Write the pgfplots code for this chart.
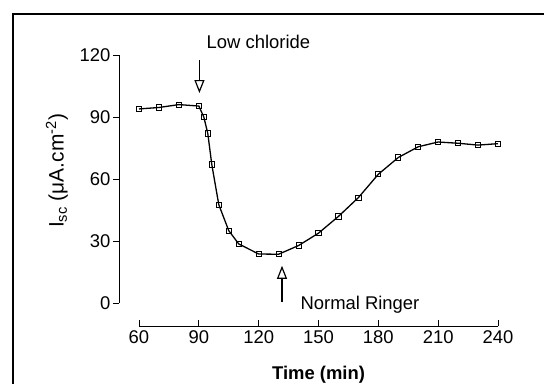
\documentclass[border=0pt]{standalone}
\usepackage{pgfplots}
\pgfplotsset{compat=1.18}
\usepackage{fontspec}
\setmainfont{Liberation Sans}
\usetikzlibrary{arrows.meta}
\begin{document}
\begin{tikzpicture}
\useasboundingbox (-139bp,-81bp) rectangle (405bp,303bp);
\begin{axis}[
  at={(0,0)}, anchor=south west,
  x=1.99444bp, y=2.06667bp,
  xmin=60, xmax=240, ymin=0, ymax=120,
  enlargelimits=false,
  axis x line=bottom, axis y line=left,
  axis line style={-, line width=0.9bp},
  axis x line shift=23bp, axis y line shift=20bp,
  xtick={60,90,...,240}, ytick={0,30,...,120},
  x tick style={line width=0.8bp, black}, y tick style={line width=0.8bp, black},
  major tick length=6bp,
  xtick align=inside, ytick align=outside,
  tick label style={font=\fontsize{18.5}{21}\selectfont},
  /pgf/number format/assume math mode=true,
  xticklabel style={yshift=-1bp},
  yticklabel style={xshift=1bp},
  clip=false,
]
\addplot[black, line width=1.3bp, mark=square, mark size=2.6bp, mark options={fill=white, line width=0.9bp}] coordinates {
(60,93.9) (70,94.6) (80,96.0) (90,95.3) (92.5,90.0) (94.5,82.0) (96.5,67.0)
(100,47.6) (105,35.0) (110,28.6) (120,23.7) (130,23.6) (140,27.8) (150,33.8)
(160,41.9) (170,51.0) (180,62.3) (190,70.4) (200,75.6) (210,77.9) (220,77.3)
(230,76.4) (240,77.1)
};
\draw[line width=1.2bp, -{Triangle[open, width=10bp, length=13bp, line width=1.2bp]}] (axis cs:90.3,117.7) -- (axis cs:90.3,101.6);
\draw[line width=1.2bp, -{Triangle[open, width=10bp, length=13bp, line width=1.2bp]}] (axis cs:131.7,0.5) -- (axis cs:131.7,18);
\node[font=\fontsize{18.5}{21}\selectfont] at (axis cs:119.9,126.5) {Low chloride};
\node[font=\fontsize{18.5}{21}\selectfont] at (axis cs:170.8,-1) {Normal Ringer};
\node[font=\fontsize{18.5}{21}\selectfont\bfseries] at (axis cs:150,-34.8) {Time (min)};
\node[rotate=90, font=\fontsize{21}{24}\selectfont] at (axis cs:18.9,63.9) {I\textsubscript{sc} (μA.cm\textsuperscript{-2})};
\end{axis}
\draw[line width=1.2bp] (-126bp,-81bp) -- (-126bp,289bp) -- (405bp,289bp);
\end{tikzpicture}
\end{document}
